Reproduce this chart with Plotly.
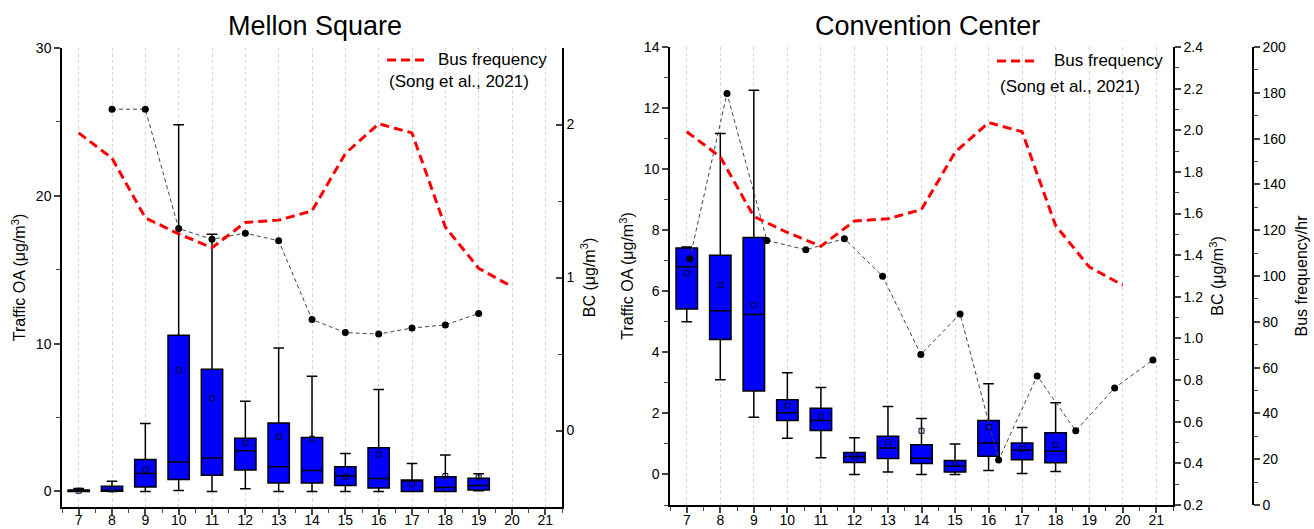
import plotly.graph_objects as go

W, H = 1314, 529
FONT = "Arial, Liberation Sans, sans-serif"

# ---------------- data ----------------
hours = list(range(7, 20))            # Mellon Square boxes 7..19
hours_cc = list(range(7, 19))         # Convention Center boxes 7..18

# Mellon Square traffic OA box statistics (ug/m3)
ms_min = [0.0, 0.0, 0.0, 0.07, 0.0, 0.18, 0.0, 0.0, 0.0, 0.0, 0.0, 0.0, 0.05]
ms_q1 = [0.0, 0.02, 0.3, 0.81, 1.1, 1.45, 0.58, 0.58, 0.4, 0.23, 0.0, 0.0, 0.1]
ms_med = [0.04, 0.08, 1.22, 2.0, 2.27, 2.75, 1.67, 1.42, 1.04, 0.88, 0.72, 0.27, 0.4]
ms_q3 = [0.1, 0.35, 2.17, 10.56, 8.26, 3.6, 4.63, 3.65, 1.67, 2.95, 0.77, 1.0, 0.9]
ms_max = [0.2, 0.7, 4.6, 24.8, 17.4, 6.1, 9.7, 7.8, 2.57, 6.9, 1.9, 2.46, 1.2]
ms_mean = [0.05, 0.15, 1.47, 8.2, 6.3, 3.3, 3.7, 3.57, 1.0, 2.5, 0.52, 1.05, 0.95]

# Mellon Square BC (ug/m3)
ms_bc_x = [8, 9, 10, 11, 12, 13, 14, 15, 16, 17, 18, 19]
ms_bc = [2.10, 2.10, 1.32, 1.25, 1.29, 1.24, 0.725, 0.64, 0.63, 0.67, 0.69, 0.765]

# Convention Center traffic OA box statistics (ug/m3)
cc_min = [5.0, 3.1, 1.87, 1.19, 0.55, 0.0, 0.08, 0.0, 0.0, 0.13, 0.03, 0.1]
cc_q1 = [5.42, 4.42, 2.73, 1.77, 1.44, 0.39, 0.52, 0.36, 0.08, 0.6, 0.48, 0.38]
cc_med = [6.8, 5.36, 5.24, 2.02, 1.77, 0.59, 0.87, 0.53, 0.27, 1.03, 0.79, 0.76]
cc_q3 = [7.42, 7.18, 7.76, 2.45, 2.17, 0.72, 1.25, 0.97, 0.46, 1.77, 1.03, 1.37]
cc_max = [7.45, 11.17, 12.58, 3.33, 2.85, 1.2, 2.23, 1.83, 1.0, 2.97, 1.54, 2.35]
cc_mean = [6.6, 6.2, 5.55, 2.26, 1.9, 0.58, 1.06, 1.43, 0.35, 1.55, 0.84, 0.97]

# Convention Center BC (ug/m3)
cc_bc_x = [7.09, 8.2, 9.39, 10.55, 11.7, 12.84, 13.98, 15.15, 16.3, 17.45, 18.6, 19.76, 20.9]
cc_bc = [1.383, 2.177, 1.471, 1.426, 1.479, 1.299, 0.923, 1.118, 0.416, 0.82, 0.557, 0.762, 0.897]

# Bus frequency (Song et al., 2021), buses/hr
bus_hours = list(range(7, 21))
bus_freq = [163, 152, 126, 119, 113, 124, 125, 129, 154, 167, 163, 122, 104, 96]

# ---------------- figure ----------------
BLUE = "#0000FF"
RED = "#FF0000"

fig = go.Figure()

def add_panel(xa, ya_oa, ya_bc, ya_bus, xs, mn, q1, med, q3, mx, mean, bcx, bc):
    fig.add_trace(go.Box(
        x=xs, q1=q1, median=med, q3=q3, lowerfence=mn, upperfence=mx,
        width=0.64, whiskerwidth=0.5, fillcolor=BLUE,
        line=dict(color="black", width=1.5), boxpoints=False,
        xaxis=xa, yaxis=ya_oa, showlegend=False, hoverinfo="skip"))
    fig.add_trace(go.Scatter(
        x=xs, y=mean, mode="markers", xaxis=xa, yaxis=ya_oa,
        marker=dict(symbol="square-open", size=5, color="#00002a",
                    line=dict(width=1)),
        showlegend=False, hoverinfo="skip"))
    fig.add_trace(go.Scatter(
        x=bcx, y=bc, mode="lines+markers", xaxis=xa, yaxis=ya_bc,
        line=dict(color="#444444", width=1, dash="4px,3px"),
        marker=dict(color="black", size=7),
        showlegend=False, hoverinfo="skip"))
    fig.add_trace(go.Scatter(
        x=bus_hours, y=bus_freq, mode="lines", name="Bus frequency",
        xaxis=xa, yaxis=ya_bus,
        line=dict(color=RED, width=3, dash="9px,5px"),
        showlegend=False, hoverinfo="skip"))

add_panel("x", "y", "y2", "y3", hours, ms_min, ms_q1, ms_med, ms_q3, ms_max, ms_mean, ms_bc_x, ms_bc)
add_panel("x2", "y4", "y5", "y6", hours_cc, cc_min, cc_q1, cc_med, cc_q3, cc_max, cc_mean, cc_bc_x, cc_bc)

tickfont = dict(family=FONT, size=14, color="black")
titlefont = dict(family=FONT, size=16, color="black")

def xax(domain, anchor, standoff):
    return dict(domain=domain, anchor=anchor, range=[6.5, 21.5], automargin=False,
                tick0=7, dtick=1, ticks="outside", ticklen=6, tickwidth=1.5,
                ticklabelstandoff=standoff,
                showline=True, linecolor="black", linewidth=1.5,
                showgrid=True, gridcolor="#d4d4d4", griddash="dot", gridwidth=1,
                zeroline=False, tickfont=tickfont,
                minor=dict(dtick=0.5, tick0=6.5, ticks="outside", ticklen=4,
                           tickwidth=1.2, showgrid=False))

def yax(domain=None, anchor=None, rng=None, dtick=None, minor=None, title=None,
        ticks="outside", side="left", overlaying=None, tickformat=None,
        position=None, standoff=10):
    d = dict(range=rng, dtick=dtick, ticks=ticks, ticklen=6, tickwidth=1.5,
             showline=True, linecolor="black", linewidth=1.5, automargin=False,
             showgrid=False, zeroline=False, tickfont=tickfont, side=side,
             minor=dict(dtick=minor, ticks=ticks, ticklen=4, tickwidth=1.2,
                        showgrid=False))
    if domain is not None:
        d["domain"] = domain
    if anchor is not None:
        d["anchor"] = anchor
    if title is not None:
        d["title"] = dict(text=title, font=titlefont, standoff=standoff)
    if overlaying is not None:
        d["overlaying"] = overlaying
    if tickformat is not None:
        d["tickformat"] = tickformat
    if position is not None:
        d["position"] = position
    return d

L_dom_x = [62 / W, 562 / W]
L_dom_y = [1 - 507 / H, 1 - 48 / H]
R_dom_x = [670 / W, 1173 / W]
R_dom_y = [1 - 505 / H, 1 - 47 / H]

fig.update_layout(
    template="none",
    width=W, height=H,
    margin=dict(l=0, r=0, t=0, b=0, pad=0),
    paper_bgcolor="white", plot_bgcolor="white",
    font=dict(family=FONT, color="black"),
    showlegend=False,
    xaxis=xax(L_dom_x, "y", -7),
    yaxis=yax(L_dom_y, "x", [-1.05, 30], 10, 5, "Traffic OA (μg/m<sup>3</sup>)", standoff=6),
    yaxis2=yax(None, "x", [-0.5, 2.5], 1, 0.5, "BC (μg/m<sup>3</sup>)",
               ticks="inside", side="right", overlaying="y"),
    yaxis3=dict(overlaying="y", range=[0, 200], visible=False, anchor="x"),
    xaxis2=xax(R_dom_x, "y4", -5),
    yaxis4=yax(R_dom_y, "x2", [-1, 14], 2, 1, "Traffic OA (μg/m<sup>3</sup>)", standoff=6),
    yaxis5=yax(None, "x2", [0.2, 2.4], 0.2, 0.1, "BC (μg/m<sup>3</sup>)",
               side="right", overlaying="y4", tickformat=".1f"),
    yaxis6=yax(None, "free", [0, 200], 20, 10, "Bus frequency/hr",
               side="right", overlaying="y4", position=1253 / W),
)

# panel titles
for txt, cx in [("Mellon Square", 315), ("Convention Center", 927)]:
    fig.add_annotation(text=txt, x=cx / W, y=1 - 26 / H, xref="paper", yref="paper",
                       xanchor="center", yanchor="middle", showarrow=False,
                       font=dict(family=FONT, size=27, color="black"))

# hand-drawn legends (line sample + two text lines)
legend_font = dict(family=FONT, size=17, color="black")
for (lx0, lx1, ly, tx, t2x, t2y) in [(387, 427, 60, 436, 387, 81),
                                     (997, 1037, 61, 1052, 998, 86)]:
    fig.add_shape(type="line", xref="paper", yref="paper",
                  x0=lx0 / W, x1=lx1 / W, y0=1 - ly / H, y1=1 - ly / H,
                  line=dict(color=RED, width=3, dash="9px,5px"))
    fig.add_annotation(text="Bus frequency", x=tx / W, y=1 - ly / H, xref="paper", yref="paper",
                       xanchor="left", yanchor="middle", showarrow=False, font=legend_font)
    fig.add_annotation(text="(Song et al., 2021)", x=t2x / W, y=1 - t2y / H, xref="paper",
                       yref="paper", xanchor="left", yanchor="middle", showarrow=False,
                       font=legend_font)

fig.write_html(
    "out.html",
    config={"displayModeBar": False},
    post_script="document.body.style.margin='0';document.body.style.overflow='hidden';",
)
